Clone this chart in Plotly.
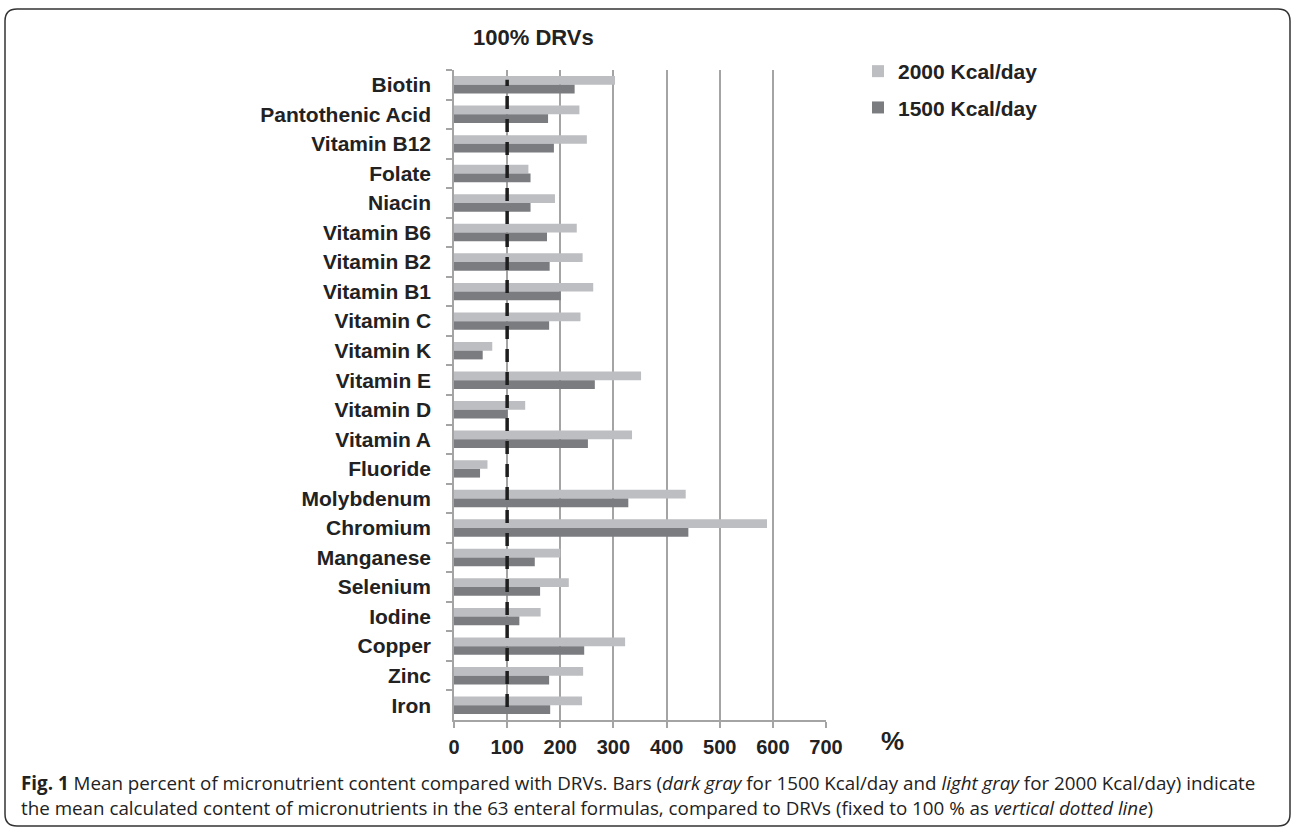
import plotly.graph_objects as go

nutrients = ["Biotin", "Pantothenic Acid", "Vitamin B12", "Folate", "Niacin", "Vitamin B6",
             "Vitamin B2", "Vitamin B1", "Vitamin C", "Vitamin K", "Vitamin E", "Vitamin D",
             "Vitamin A", "Fluoride", "Molybdenum", "Chromium", "Manganese", "Selenium",
             "Iodine", "Copper", "Zinc", "Iron"]
kcal_2000 = [303, 236, 250, 140, 190, 231, 242, 262, 238, 72, 352, 134,
             335, 63, 436, 589, 200, 216, 163, 322, 243, 241]
kcal_1500 = [227, 177, 188, 144, 144, 175, 180, 201, 179, 54, 265, 101,
             252, 49, 328, 441, 152, 162, 123, 245, 179, 181]
x_ticks = [0, 100, 200, 300, 400, 500, 600, 700]
drv_line = 100

W, H = 1296, 832
L, R, T, B = 454, 826, 70, 720
pw, ph = R - L, B - T

def px(x):
    return (x - L) / pw

def py(y):
    return (B - y) / ph

fig = go.Figure()
fig.add_trace(go.Bar(y=nutrients, x=kcal_2000, orientation="h", name="2000 Kcal/day",
                     marker=dict(color="#bdbec1", line=dict(width=0)), legendgroup="a"))
fig.add_trace(go.Bar(y=nutrients, x=kcal_1500, orientation="h", name="1500 Kcal/day",
                     marker=dict(color="#7b7c80", line=dict(width=0)), legendgroup="b"))

bold = "Liberation Sans"
fig.update_layout(
    width=W, height=H,
    margin=dict(l=L, r=W - R, t=T, b=H - B),
    paper_bgcolor="white", plot_bgcolor="white",
    barmode="group", bargap=0.41, bargroupgap=0,
    font=dict(family=bold, color="#222"),
    showlegend=True,
    legend=dict(x=px(858), y=py(51), xanchor="left", yanchor="top",
                font=dict(size=21, family=bold, weight="bold", color="#222"),
                tracegroupgap=6, itemwidth=30, bgcolor="rgba(0,0,0,0)"),
    xaxis=dict(range=[0, 700], tickvals=x_ticks, showgrid=True, gridcolor="#a4a4a4", gridwidth=1.5,
               zeroline=False, showline=True, linecolor="#a4a4a4", linewidth=1.5,
               ticks="outside", ticklen=6, tickcolor="#a4a4a4", tickwidth=1.5,
               ticklabelstandoff=2,
               tickfont=dict(size=20, family=bold, weight="bold", color="#222"), fixedrange=True),
    yaxis=dict(categoryorder="array", categoryarray=nutrients, autorange="reversed",
               showline=True, linecolor="#a4a4a4", linewidth=1.5, showgrid=False,
               ticks="outside", ticklen=6, tickcolor="#a4a4a4", tickwidth=1.5, tickson="boundaries",
               ticklabelstandoff=17,
               tickfont=dict(size=21, family=bold, weight="bold", color="#222"), fixedrange=True),
)

fig.add_shape(type="line", xref="x", yref="paper", x0=drv_line, x1=drv_line, y0=0.02, y1=0.985,
              line=dict(color="#1e1e1e", width=3.5, dash="13px,10px"), layer="above")

fig.add_annotation(x=px(533), y=py(37), xref="paper", yref="paper", text="<b>100% DRVs</b>",
                   xanchor="center", yanchor="middle",
                   showarrow=False, font=dict(size=22, family=bold, color="#222"))
fig.add_annotation(x=px(892), y=py(741), xref="paper", yref="paper", text="<b>%</b>",
                   xanchor="center", yanchor="middle",
                   showarrow=False, font=dict(size=26, family=bold, color="#222"))

cap_font = "Open Sans"
cap1 = ("<b>Fig. 1</b> Mean percent of micronutrient content compared with DRVs. Bars (<i>dark gray</i> "
        "for 1500 Kcal/day and <i>light gray</i> for 2000 Kcal/day) indicate")
cap2 = ("the mean calculated content of micronutrients in the 63 enteral formulas, compared to DRVs "
        "(fixed to 100 % as <i>vertical dotted line</i>)")
for txt, yy in [(cap1, 783), (cap2, 808)]:
    fig.add_annotation(x=px(19), y=py(yy), xref="paper", yref="paper", text=txt, align="left",
                       xanchor="left", yanchor="middle", showarrow=False,
                       font=dict(size=18.8, family=cap_font, color="#222"))

# rounded frame
x0, x1, y0, y1, r = 5, 1290, 9, 826, 12
path = (f"M {px(x0 + r)},{py(y0)} L {px(x1 - r)},{py(y0)} Q {px(x1)},{py(y0)} {px(x1)},{py(y0 + r)} "
        f"L {px(x1)},{py(y1 - r)} Q {px(x1)},{py(y1)} {px(x1 - r)},{py(y1)} "
        f"L {px(x0 + r)},{py(y1)} Q {px(x0)},{py(y1)} {px(x0)},{py(y1 - r)} "
        f"L {px(x0)},{py(y0 + r)} Q {px(x0)},{py(y0)} {px(x0 + r)},{py(y0)} Z")
fig.add_shape(type="path", xref="paper", yref="paper", path=path,
              line=dict(color="#333", width=1.5), fillcolor="rgba(0,0,0,0)")

fig.write_html("out.html", config={"displayModeBar": False},
               post_script="document.body.style.margin='0';document.body.style.overflow='hidden';")
